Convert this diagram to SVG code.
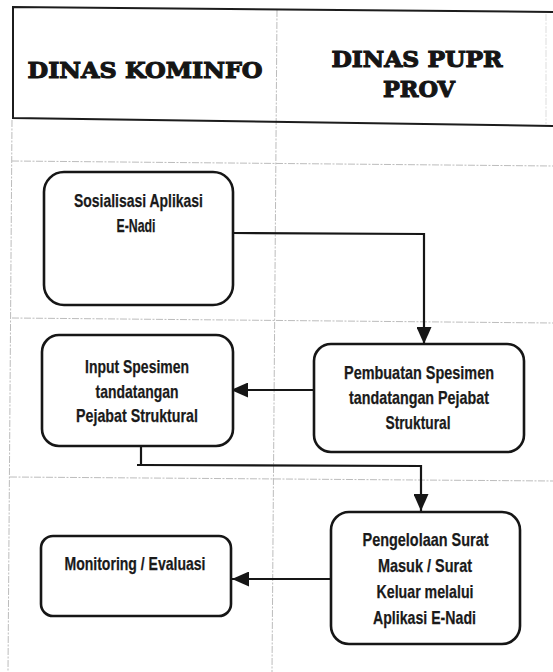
<svg xmlns="http://www.w3.org/2000/svg" width="553" height="672" viewBox="0 0 553 672">
  <defs>
    <style>
      .frame { fill: none; stroke: #1c1c1c; stroke-width: 2; }
      .grid { fill: none; stroke: #b4b4b4; stroke-width: 0.9; stroke-dasharray: 7 1.5 2 1.5; }
      .box { fill: #ffffff; stroke: #161616; stroke-width: 2.6; }
      .wire { fill: none; stroke: #161616; stroke-width: 2.2; }
      .head { font-family: "DejaVu Serif", "Liberation Serif", serif; font-weight: bold; font-size: 22px; fill: #151515; stroke: #151515; stroke-width: 1.1; text-anchor: middle; }
      .lbl { font-family: "Liberation Sans Narrow", "Liberation Sans", Arial, sans-serif; font-weight: bold; font-size: 19px; fill: #1a1a1a; stroke: #1a1a1a; stroke-width: 0.25; text-anchor: middle; }
    </style>
    <marker id="arrow" viewBox="0 0 17 15" refX="17" refY="7.5" markerWidth="17" markerHeight="15" markerUnits="userSpaceOnUse" orient="auto">
      <path d="M0,0 L17,7.5 L0,15 Z" fill="#161616"/>
    </marker>
  </defs>

  <rect width="553" height="672" fill="#ffffff"/>

  <!-- swimlane grid -->
  <g id="lanes">
    <line class="grid" x1="12" y1="120" x2="8" y2="672"/>
    <line class="grid" x1="277" y1="10" x2="272" y2="672"/>
    <line class="grid" x1="546" y1="14" x2="546" y2="124" stroke-opacity="0.5"/>
    <line class="grid" x1="12" y1="161" x2="553" y2="166"/>
    <line class="grid" x1="12" y1="318" x2="553" y2="323"/>
    <line class="grid" x1="10" y1="477" x2="553" y2="481"/>
  </g>

  <!-- header band -->
  <g id="header">
    <path class="frame" d="M553,12 L13,7 L13,118 L553,126"/>
    <text class="head" x="145" y="78" textLength="235" lengthAdjust="spacingAndGlyphs">DINAS KOMINFO</text>
    <text class="head" x="417" y="67" textLength="171" lengthAdjust="spacingAndGlyphs">DINAS PUPR</text>
    <text class="head" x="419" y="97" textLength="72" lengthAdjust="spacingAndGlyphs">PROV</text>
  </g>

  <!-- connectors -->
  <g id="connectors">
    <polyline class="wire" points="233,233 424,234 424,344" marker-end="url(#arrow)"/>
    <line class="wire" x1="314" y1="390" x2="231" y2="390" marker-end="url(#arrow)"/>
    <polyline class="wire" points="141,446 141,465"/>
    <polyline class="wire" points="137,465 421,466 421,511" marker-end="url(#arrow)"/>
    <line class="wire" x1="331" y1="579" x2="232" y2="579" marker-end="url(#arrow)"/>
  </g>

  <g id="sosialisasi">
    <rect class="box" x="44" y="172" width="189" height="133" rx="20" ry="20"/>
    <text class="lbl" x="138.5" y="207" textLength="129" lengthAdjust="spacingAndGlyphs">Sosialisasi Aplikasi</text>
    <text class="lbl" x="136" y="232" textLength="39" lengthAdjust="spacingAndGlyphs">E-Nadi</text>
  </g>

  <g id="input-spesimen">
    <rect class="box" x="42" y="335" width="191" height="111" rx="17" ry="17"/>
    <text class="lbl" x="137" y="373" textLength="104" lengthAdjust="spacingAndGlyphs">Input Spesimen</text>
    <text class="lbl" x="137" y="398" textLength="83" lengthAdjust="spacingAndGlyphs">tandatangan</text>
    <text class="lbl" x="137" y="422" textLength="122" lengthAdjust="spacingAndGlyphs">Pejabat Struktural</text>
  </g>

  <g id="pembuatan-spesimen">
    <rect class="box" x="314" y="344" width="210" height="108" rx="17" ry="17"/>
    <text class="lbl" x="419" y="379" textLength="150" lengthAdjust="spacingAndGlyphs">Pembuatan Spesimen</text>
    <text class="lbl" x="419" y="404" textLength="140" lengthAdjust="spacingAndGlyphs">tandatangan Pejabat</text>
    <text class="lbl" x="418" y="429" textLength="65" lengthAdjust="spacingAndGlyphs">Struktural</text>
  </g>

  <g id="monitoring">
    <rect class="box" x="41" y="536" width="190" height="80" rx="12" ry="12"/>
    <text class="lbl" x="135" y="570" textLength="141" lengthAdjust="spacingAndGlyphs">Monitoring / Evaluasi</text>
  </g>

  <g id="pengelolaan-surat">
    <rect class="box" x="331" y="512" width="189" height="132" rx="18" ry="18"/>
    <text class="lbl" x="425.5" y="546" textLength="126" lengthAdjust="spacingAndGlyphs">Pengelolaan Surat</text>
    <text class="lbl" x="425" y="572" textLength="94" lengthAdjust="spacingAndGlyphs">Masuk / Surat</text>
    <text class="lbl" x="425" y="598" textLength="97" lengthAdjust="spacingAndGlyphs">Keluar melalui</text>
    <text class="lbl" x="424.5" y="624" textLength="103" lengthAdjust="spacingAndGlyphs">Aplikasi E-Nadi</text>
  </g>
</svg>
